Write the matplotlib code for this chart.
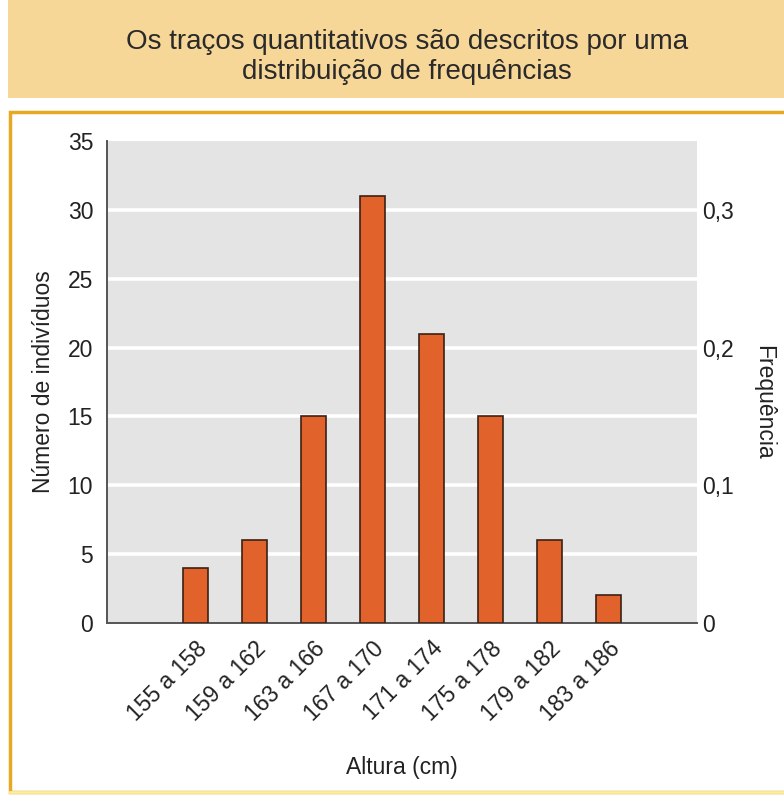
import matplotlib
matplotlib.use("Agg")
import matplotlib.pyplot as plt
from matplotlib.patches import Rectangle
from matplotlib.ticker import FuncFormatter

plt.rcParams['font.family'] = ['Liberation Sans', 'DejaVu Sans']

# height classes (cm) and number of individuals in each
classes = ["155 a 158", "159 a 162", "163 a 166", "167 a 170",
           "171 a 174", "175 a 178", "179 a 182", "183 a 186"]
counts = [4, 6, 15, 31, 21, 15, 6, 2]
count_ticks = [0, 5, 10, 15, 20, 25, 30, 35]
freq_ticks = [0, 0.1, 0.2, 0.3]
total = 100

title = "Os traços quantitativos são descritos por uma\ndistribuição de frequências"

W, H = 784, 795
FS = 16.5
TXT = "#222222"
fig = plt.figure(figsize=(W / 100, H / 100), dpi=100, facecolor="white")

def px(x0, y0, x1, y1):
    """pixel box (top-left origin) -> figure fraction rect"""
    return [x0 / W, 1 - y1 / H, (x1 - x0) / W, (y1 - y0) / H]

# title band and framed panel
bg = fig.add_axes([0, 0, 1, 1], zorder=-5)
bg.set_xlim(0, W); bg.set_ylim(H, 0); bg.axis("off")
bg.add_patch(Rectangle((8, 0), W - 8, 98, color="#f7d797", lw=0))
bg.add_patch(Rectangle((10, 112), W, H - 115, facecolor="white",
                       edgecolor="#e8a922", lw=2.5))
bg.plot([10, W], [792, 792], color="#fbeea0", lw=2)
bg.text(W / 2 + 15, 57, title, ha="center", va="center", fontsize=20,
        color="#2a2a2a", linespacing=1.22)

ax = fig.add_axes(px(107, 141, 697, 623))
x = list(range(len(classes)))
ax.set_facecolor("#e4e4e4")
ax.bar(x, counts, width=0.41, color="#e1622b", edgecolor="#3b2216",
       linewidth=1.2, zorder=3)
ax.set_xlim(-1.5, len(classes) + 0.5)
ax.set_ylim(0, 35)
ax.set_yticks(count_ticks)
for v in count_ticks[1:-1]:
    ax.axhline(v, color="white", lw=2.6, zorder=1)
ax.set_xticks(x)
ax.set_xticklabels(classes, rotation=45, ha="right", va="top",
                   rotation_mode="anchor", fontsize=FS, color=TXT)
ax.tick_params(axis="x", length=0, pad=10)
ax.tick_params(axis="y", length=0, pad=10, labelsize=FS, labelcolor=TXT)
for s in ("top", "right"):
    ax.spines[s].set_visible(False)
for s in ("left", "bottom"):
    ax.spines[s].set_color("#555555")
    ax.spines[s].set_linewidth(1.4)
ax.set_ylabel("Número de indivíduos", fontsize=FS, color=TXT, labelpad=9)
ax.set_xlabel("Altura (cm)", fontsize=FS, color=TXT, labelpad=22)

# relative frequency on the right
ax2 = ax.twinx()
ax2.set_ylim(0, 35 / total)
ax2.set_yticks(freq_ticks)
ax2.yaxis.set_major_formatter(FuncFormatter(
    lambda v, _: "0" if v == 0 else f"{v:.1f}".replace(".", ",")))
ax2.tick_params(axis="y", length=0, pad=4, labelsize=FS, labelcolor=TXT)
for s in ax2.spines.values():
    s.set_visible(False)
fig.text(764 / W, 1 - 402 / H, "Frequência", fontsize=FS, color=TXT,
         rotation=270, ha="center", va="center")

fig.savefig("out.png", dpi=100, facecolor="white")
